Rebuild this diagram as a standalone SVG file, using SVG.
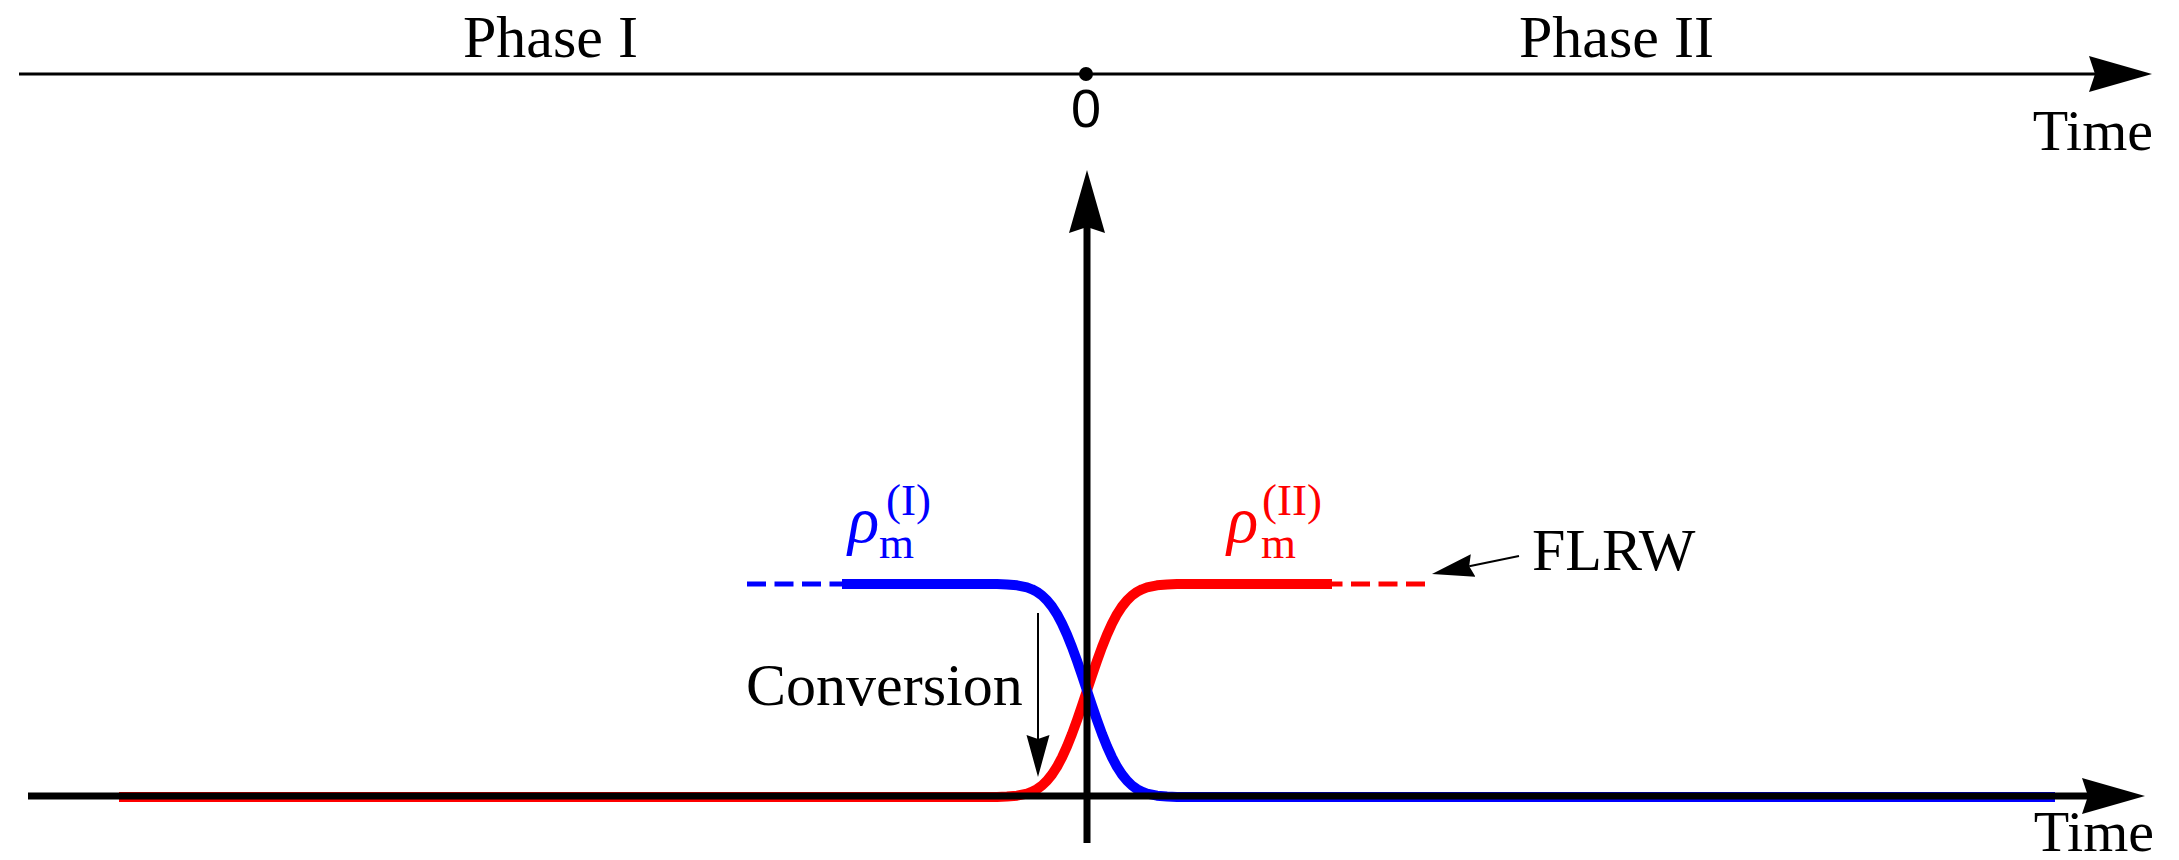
<svg xmlns="http://www.w3.org/2000/svg" width="2179" height="860" viewBox="0 0 2179 860">
<style>
.serif{font-family:"Liberation Serif","Times New Roman",serif;font-size:60px;fill:#000}
.ital{font-family:"Liberation Serif","Times New Roman",serif;font-style:italic;font-size:65px}
.sub{font-family:"Liberation Serif","Times New Roman",serif;font-size:45px}
.sans{font-family:"Liberation Sans",Arial,sans-serif;font-size:54px;fill:#000}
.axis{stroke:#000;fill:none}
.curve{fill:none;stroke-width:10;stroke-linejoin:round}
.dash{fill:none;stroke-width:5;stroke-dasharray:19 8.5}
.thin{stroke:#000;stroke-width:2;fill:none}
</style>
<defs>
<marker id="bigArrow" viewBox="-63 -18 63 36" refX="-57" refY="0" markerWidth="63" markerHeight="36" markerUnits="userSpaceOnUse" orient="auto">
<path d="M0,0 L-63,-18 L-57,0 L-63,18 Z" fill="#000"/>
</marker>
<marker id="smallArrow" viewBox="-42 -12 42 24" refX="-38" refY="0" markerWidth="42" markerHeight="24" markerUnits="userSpaceOnUse" orient="auto">
<path d="M0,0 L-42,-11.5 L-38,0 L-42,11.5 Z" fill="#000"/>
</marker>
</defs>

<g id="timeline">
<line class="axis" x1="19" y1="74" x2="2095" y2="74" stroke-width="3" marker-end="url(#bigArrow)"/>
<circle cx="1086" cy="74" r="7" fill="#000"/>
<text class="serif" x="463" y="57">Phase I</text>
<text class="serif" x="1519" y="57">Phase II</text>
<text class="sans" x="1086" y="127" text-anchor="middle">0</text>
<text class="serif" x="2153" y="150" text-anchor="end" style="font-size:58px">Time</text>
</g>

<g id="curves">
<path id="rho-II" class="curve" stroke="#ff0000" d="M119,797 L997,796.9 L1007,796.5 L1017,795.7 L1027,793.6 L1032,791.7 L1037,789.1 L1042,785.5 L1047,780.7 L1052,774.5 L1057,766.8 L1062,757.4 L1067,746.4 L1072,733.9 L1077,720.2 L1082,705.6 L1087,690.5 L1092,675.4 L1097,660.8 L1102,647.1 L1107,634.6 L1112,623.6 L1117,614.2 L1122,606.5 L1127,600.3 L1132,595.5 L1137,591.9 L1142,589.3 L1147,587.4 L1157,585.3 L1167,584.5 L1177,584.1 L1332,584"/>
<path class="dash" stroke="#ff0000" d="M1425,584 L1332,584"/>
<path id="rho-I" class="curve" stroke="#0000ff" d="M842,584 L997,584.1 L1007,584.5 L1017,585.3 L1027,587.4 L1032,589.3 L1037,591.9 L1042,595.5 L1047,600.3 L1052,606.5 L1057,614.2 L1062,623.6 L1067,634.6 L1072,647.1 L1077,660.8 L1082,675.4 L1087,690.5 L1092,705.6 L1097,720.2 L1102,733.9 L1107,746.4 L1112,757.4 L1117,766.8 L1122,774.5 L1127,780.7 L1132,785.5 L1137,789.1 L1142,791.7 L1147,793.6 L1157,795.7 L1167,796.5 L1177,796.9 L2055,797"/>
<path class="dash" stroke="#0000ff" d="M747,584 L842,584"/>
</g>

<g id="axes">
<line class="axis" x1="28" y1="796" x2="2088" y2="796" stroke-width="7" marker-end="url(#bigArrow)"/>
<line class="axis" x1="1087" y1="843" x2="1087" y2="227" stroke-width="7" marker-end="url(#bigArrow)"/>
<text class="serif" x="2154" y="851" text-anchor="end" style="font-size:58px">Time</text>
</g>

<g id="label-rho-I" fill="#0000ff">
<text class="ital" x="848" y="542">ρ</text>
<text class="sub" x="879" y="558">m</text>
<text class="sub" x="886" y="515">(I)</text>
</g>
<g id="label-rho-II" fill="#ff0000">
<text class="ital" x="1227" y="542">ρ</text>
<text class="sub" x="1261" y="558">m</text>
<text class="sub" x="1262" y="515">(II)</text>
</g>

<g id="connectors">
<line class="thin" x1="1038" y1="613" x2="1038" y2="739" marker-end="url(#smallArrow)"/>
<line class="thin" x1="1519" y1="556" x2="1469.2" y2="566.3" marker-end="url(#smallArrow)"/>
</g>

<g id="label-conversion">
<text class="serif" x="746" y="705">Conversion</text>
</g>
<g id="label-flrw">
<text class="serif" x="1532" y="570">FLRW</text>
</g>
</svg>
